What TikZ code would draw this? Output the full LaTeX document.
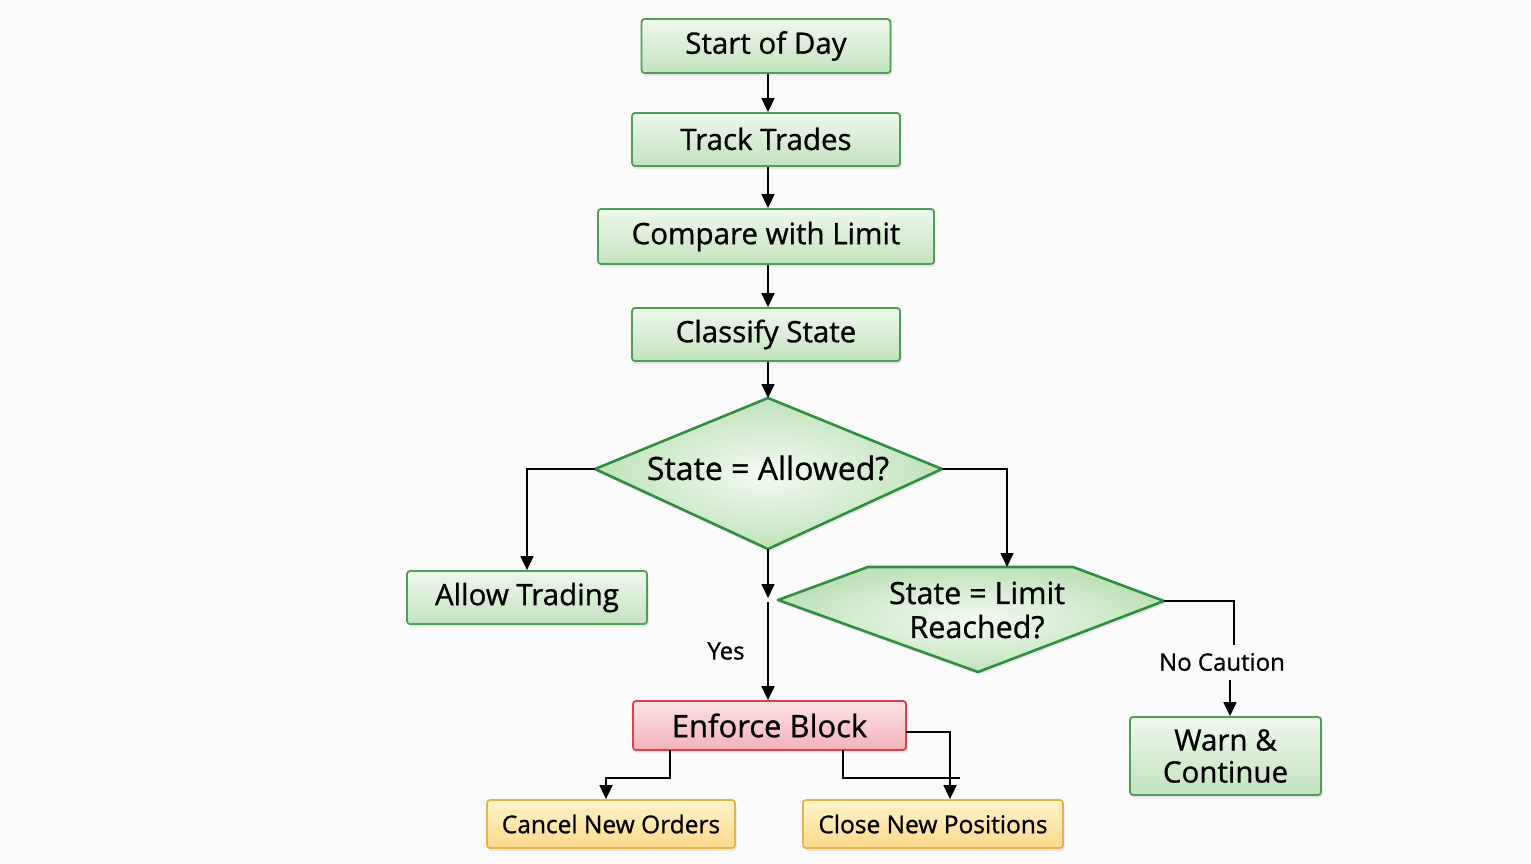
\documentclass[tikz,border=0pt]{standalone}
\usepackage{fontspec}
\setmainfont{Open Sans}[RawFeature={embolden=0.9}]
\usetikzlibrary{arrows.meta,shadows}
\definecolor{bg}{HTML}{FBFBFB}
\definecolor{gtop}{HTML}{EEF8EC}
\definecolor{gbot}{HTML}{C3E3BE}
\definecolor{gborder}{HTML}{4E9E55}
\definecolor{dborder}{HTML}{2F8F3F}
\definecolor{gin}{HTML}{F4FBF2}
\definecolor{gout}{HTML}{BFE2BA}
\definecolor{rtop}{HTML}{FCE3E5}
\definecolor{rbot}{HTML}{F2B2B8}
\definecolor{rborder}{HTML}{D7424E}
\definecolor{ytop}{HTML}{FFF4CC}
\definecolor{ybot}{HTML}{FBD98B}
\definecolor{yborder}{HTML}{E6B44A}
\begin{document}
\begin{tikzpicture}[x=1pt,y=-1pt,
  boxbase/.style={line width=1.8pt, rounded corners=3pt, inner sep=0pt, align=center,
    drop shadow={opacity=0.16, shadow xshift=1.5pt, shadow yshift=-3pt}},
  gbox/.style={boxbase, draw=gborder, top color=gtop, bottom color=gbot,
    font=\fontsize{29.5}{32}\selectfont},
  rbox/.style={boxbase, draw=rborder, top color=rtop, bottom color=rbot,
    font=\fontsize{31}{34}\selectfont},
  ybox/.style={boxbase, draw=yborder, top color=ytop, bottom color=ybot,
    font=\fontsize{24.5}{28}\selectfont},
  dshape/.style={draw=dborder, line width=2.6pt, line join=round, inner color=gin, outer color=gout,
    drop shadow={opacity=0.14, shadow xshift=1.5pt, shadow yshift=-3pt}},
  dtext/.style={align=center, inner sep=0pt},
  lbl/.style={font=\fontsize{24}{28}\selectfont, inner sep=0pt},
  ln/.style={line width=1.7pt, black},
  arr/.style={ln, -{Triangle[length=14pt,width=13pt]}}]
\fill[bg] (0,0) rectangle (1531,863);
\useasboundingbox (0,0) rectangle (1531,863);

% boxes
\node[gbox, minimum width=249pt, minimum height=54pt] (start) at (766,46) {\raisebox{1pt}{Start of Day}};
\node[gbox, minimum width=268pt, minimum height=53pt] (track) at (766,139.5) {\raisebox{1.5pt}{Track Trades}};
\node[gbox, minimum width=336pt, minimum height=55pt] (compare) at (766,236.5) {\raisebox{1pt}{Compare with Limit}};
\node[gbox, minimum width=268pt, minimum height=53pt] (classify) at (766,334.5) {\raisebox{1pt}{Classify State}};
\node[gbox, minimum width=240pt, minimum height=53pt] (allow) at (527,597.5) {Allow Trading};
\node[gbox, minimum width=191pt, minimum height=78pt] (warn) at (1225.5,756) {Warn \&\\Continue};
\node[rbox, minimum width=273pt, minimum height=49pt] (enforce) at (769.5,725.5) {Enforce Block};
\node[ybox, minimum width=248pt, minimum height=48pt] (cancel) at (611,824) {Cancel New Orders};
\node[ybox, minimum width=260pt, minimum height=48pt] (close) at (933,824) {Close New Positions};

% diamond 1
\coordinate (d1t) at (768,398);
\coordinate (d1r) at (942,469);
\coordinate (d1b) at (768,549);
\coordinate (d1l) at (595,469);
\path[dshape] (d1t) -- (d1r) -- (d1b) -- (d1l) -- cycle;
\node[dtext, font=\fontsize{32}{36}\selectfont] (q1) at (768,468) {State = Allowed?};

% diamond 2
\coordinate (d2tl) at (868,567);
\coordinate (d2tr) at (1073,567);
\coordinate (d2r) at (1164,601);
\coordinate (d2b) at (978,672);
\coordinate (d2l) at (778,600);
\coordinate (d2t) at (1007,567);
\path[dshape] (d2tl) -- (d2tr) -- (d2r) -- (d2b) -- (d2l) -- cycle;
\node[dtext, font=\fontsize{30.5}{34}\selectfont] (q2) at (977,610) {State = Limit\\Reached?};

% main chain
\draw[arr] (start.south -| 768,0) -- (track.north -| 768,0);
\draw[arr] (track.south -| 768,0) -- (compare.north -| 768,0);
\draw[arr] (compare.south -| 768,0) -- (classify.north -| 768,0);
\draw[arr] (classify.south -| d1t) -- (d1t);

% branches of diamond 1
\draw[arr] (d1l) -| (allow.north);
\draw[arr] (d1r) -| (d2t);
\coordinate (ya) at (768,598);
\coordinate (yb) at (768,602);
\draw[arr] (d1b) -- (ya);
\draw[arr] (yb) -- (enforce.north -| yb);
\node[lbl] (yes) at (726,651) {Yes};

% diamond 2 to warn
\coordinate (nc1) at (1234,645);
\coordinate (nc2) at (1230,680);
\draw[ln] (d2r) -| (nc1);
\node[lbl] (nocaution) at (1222,662) {No Caution};
\draw[arr] (nc2) -- (warn.north -| nc2);

% enforce outputs
\coordinate (e1) at (670,750);
\coordinate (c1) at (606,778);
\draw[arr] (e1) |- (c1) -- (cancel.north -| c1);
\coordinate (e2) at (843,750);
\coordinate (c2) at (960,778);
\draw[ln] (e2) |- (c2);
\coordinate (e3) at (906,732);
\coordinate (c3) at (950,780);
\draw[arr] (e3) -| (close.north -| c3);
\end{tikzpicture}
\end{document}
